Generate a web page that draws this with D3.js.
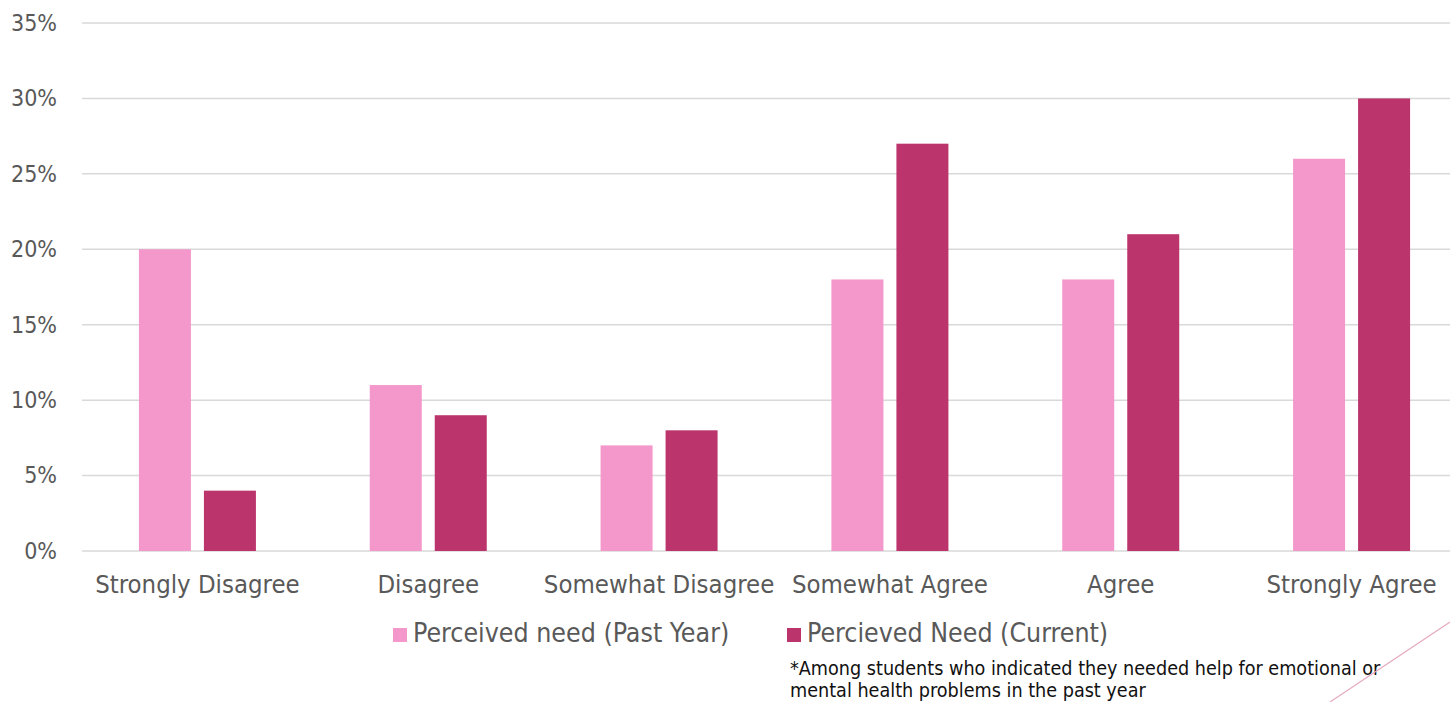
<!DOCTYPE html>
<html>
<head>
<meta charset="utf-8">
<script src="https://cdn.jsdelivr.net/npm/d3@7"></script>
<style>
  html, body { margin: 0; padding: 0; background: #fff; overflow: hidden; }
  svg { display: block; }
  text { font-family: "DejaVu Sans Condensed", "DejaVu Sans", sans-serif; }
</style>
</head>
<body>
<svg id="chart" width="1450" height="702"></svg>
<script>
// Agreement categories along the x axis
const categories = ["Strongly Disagree", "Disagree", "Somewhat Disagree", "Somewhat Agree", "Agree", "Strongly Agree"];
// Percent of students per response
const pastYear = [20, 11, 7, 18, 18, 26];
const current = [4, 9, 8, 27, 21, 30];
const seriesNames = ["Perceived need (Past Year)", "Percieved Need (Current)"];
const seriesColors = ["#F497CA", "#BC346C"];
const yTicks = [0, 5, 10, 15, 20, 25, 30, 35];
const footnote = [
  "*Among students who indicated they needed help for emotional or",
  "mental health problems in the past year"
];

const svg = d3.select("#chart");
const plot = { left: 82, right: 1467, top: 23, bottom: 551 };
const condensed = '"DejaVu Sans Condensed", "DejaVu Sans", sans-serif';

const x = d3.scaleBand().domain(categories).range([plot.left, plot.right]).padding(0);
const y = d3.scaleLinear().domain([0, 35]).range([plot.bottom, plot.top]);

const barW = 52, barGap = 13;
const offsets = [-(barGap / 2 + barW), barGap / 2];

// Gridlines
svg.append("g")
  .selectAll("line")
  .data(yTicks)
  .join("line")
  .attr("x1", plot.left).attr("x2", 1450)
  .attr("y1", d => y(d)).attr("y2", d => y(d))
  .attr("stroke", "#d9d9d9").attr("stroke-width", 1.5);

// Y axis labels
const yAxis = d3.axisLeft(y).tickValues(yTicks).tickFormat(d => d + "%").tickSize(0).tickPadding(0);
const gy = svg.append("g").attr("transform", `translate(${plot.left - 25},0)`).call(yAxis);
gy.select(".domain").remove();
gy.selectAll("text")
  .attr("fill", "#595959")
  .attr("font-size", 23)
  .style("font-family", condensed);

// X axis labels
const xAxis = d3.axisBottom(x).tickSize(0).tickPadding(0);
const gx = svg.append("g").attr("transform", `translate(0,${plot.bottom})`).call(xAxis);
gx.select(".domain").remove();
gx.selectAll("text")
  .attr("fill", "#595959")
  .attr("font-size", 25.5)
  .attr("y", 42)
  .attr("dy", 0)
  .style("font-family", condensed);

// Bars
[pastYear, current].forEach((vals, si) => {
  svg.append("g")
    .selectAll("rect")
    .data(vals.map((v, i) => ({ cat: categories[i], v })))
    .join("rect")
    .attr("x", d => x(d.cat) + x.bandwidth() / 2 + offsets[si])
    .attr("width", barW)
    .attr("y", d => y(d.v))
    .attr("height", d => y(0) - y(d.v))
    .attr("fill", seriesColors[si]);
});

// Legend
const legendX = [393, 787];
legendX.forEach((lx, i) => {
  const g = svg.append("g").attr("transform", `translate(${lx},628)`);
  g.append("rect").attr("width", 14).attr("height", 14).attr("fill", seriesColors[i]);
  g.append("text")
    .attr("x", 20).attr("y", 14)
    .attr("font-size", 26.5).attr("fill", "#595959")
    .text(seriesNames[i]);
});

// Footnote
svg.append("g")
  .selectAll("text")
  .data(footnote)
  .join("text")
  .attr("x", 790)
  .attr("y", (d, i) => 675 + i * 22)
  .attr("font-size", 19.6)
  .attr("fill", "#111")
  .text(d => d);

// Decorative corner stroke
svg.append("line")
  .attr("x1", 1330).attr("y1", 702).attr("x2", 1450).attr("y2", 622)
  .attr("stroke", "#e6a9bf").attr("stroke-width", 1.2);
</script>
</body>
</html>
